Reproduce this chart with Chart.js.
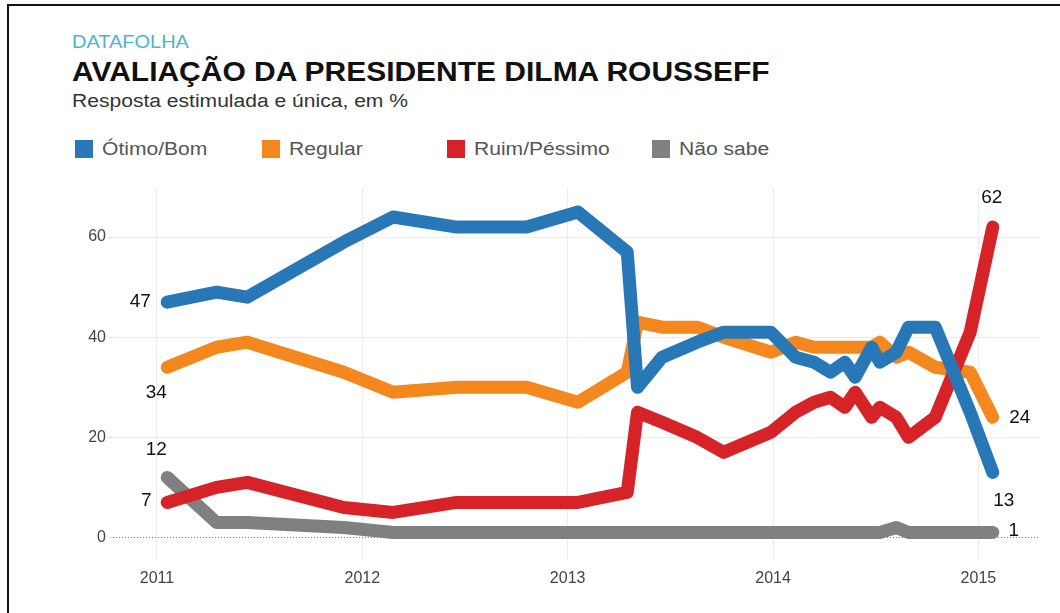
<!DOCTYPE html>
<html lang="pt-BR">
<head>
<meta charset="utf-8">
<title>Avaliação da presidente Dilma Rousseff</title>
<script src="https://cdn.jsdelivr.net/npm/chart.js@4/dist/chart.umd.min.js"></script>
<style>
  html, body { margin: 0; padding: 0; background: #fff; }
  body { width: 1060px; height: 613px; position: relative; overflow: hidden; font-family: "Liberation Sans", Arial, sans-serif; }
  #frame { position: absolute; left: 7px; top: 4px; right: 0; bottom: -4px; border-top: 2px solid #111; border-left: 2px solid #111; }
  .txt { position: absolute; left: 72px; white-space: nowrap; transform-origin: 0 0; line-height: 1; }
  #source { top: 33px; font-size: 18px; color: #4db6c9; transform: scaleX(1.11); }
  #title { top: 59px; font-size: 27px; font-weight: bold; color: #111; transform: scaleX(1.11); }
  #subtitle { top: 92px; font-size: 18px; color: #333; transform: scaleX(1.17); }
  .leg { position: absolute; top: 140px; height: 18px; }
  .leg .box { position: absolute; left: 0; top: 0; width: 18px; height: 18px; }
  .leg .lbl { position: absolute; left: 27px; top: 0; font-size: 18px; line-height: 18px; color: #555; white-space: nowrap; transform-origin: 0 50%; transform: scaleX(1.17); }
  #wrap { position: absolute; left: 0; top: 0; width: 1060px; height: 613px; }
  #chart { display: block; }
</style>
</head>
<body>
<div id="frame"></div>
<div id="source" class="txt">DATAFOLHA</div>
<div id="title" class="txt">AVALIAÇÃO DA PRESIDENTE DILMA ROUSSEFF</div>
<div id="subtitle" class="txt">Resposta estimulada e única, em %</div>
<div id="legend"></div>
<div id="wrap"><canvas id="chart" width="1060" height="613"></canvas></div>
<script>
// poll dates as decimal years
const pollDates = [2011.05, 2011.29, 2011.44, 2011.91, 2012.15, 2012.46, 2012.80, 2013.05, 2013.29, 2013.34,
  2013.46, 2013.63, 2013.76, 2013.99, 2014.11, 2014.20, 2014.28, 2014.35, 2014.40, 2014.48,
  2014.52, 2014.60, 2014.66, 2014.79, 2014.96, 2015.07];

const otimoBom = [47, 49, 48, 59, 64, 62, 62, 65, 57, 30, 36, 39, 41, 41, 36, 35, 33, 35, 32, 38, 35, 37, 42, 42, 25, 13];
const regular = [34, 38, 39, 33, 29, 30, 30, 27, 33, 43, 42, 42, 40, 37, 39, 38, 38, 38, 38, 38, 39, 36, 37, 34, 33, 24];
const ruimPessimo = [7, 10, 11, 6, 5, 7, 7, 7, 9, 25, 23, 20, 17, 21, 25, 27, 28, 26, 29, 24, 26, 24, 20, 24, 41, 62];
const naoSabe = [12, 3, 3, 2, 1, 1, 1, 1, 1, 1, 1, 1, 1, 1, 1, 1, 1, 1, 1, 1, 1, 2, 1, 1, 1, 1];

const seriesNames = ['Ótimo/Bom', 'Regular', 'Ruim/Péssimo', 'Não sabe'];
const seriesColors = ['#2878b8', '#f5871f', '#d62328', '#808080'];
const yearTicks = [2011, 2012, 2013, 2014, 2015];
const valueTicks = [0, 20, 40, 60];

// legend boxes sit at uneven offsets
const legendLeft = [75, 262, 447, 652];
const legendEl = document.getElementById('legend');
seriesNames.forEach((name, i) => {
  const item = document.createElement('div');
  item.className = 'leg';
  item.style.left = legendLeft[i] + 'px';
  item.innerHTML = `<div class="box" style="background:${seriesColors[i]}"></div><div class="lbl">${name}</div>`;
  legendEl.appendChild(item);
});

function points(values) {
  return values.map((v, i) => ({ x: pollDates[i], y: v }));
}

// first/last value labels: [dataset, point index, dx, dy]
const last = pollDates.length - 1;
const endLabels = [
  [0, 0, -27, 0], [1, 0, -11, 26], [2, 0, -21, -2], [3, 0, -11, -28],
  [0, last, 11, 28], [1, last, 27, 0], [2, last, -1, -29], [3, last, 21, -2]
];

const endLabelPlugin = {
  id: 'endLabels',
  afterDatasetsDraw(chart) {
    const ctx = chart.ctx;
    ctx.save();
    ctx.font = '19px "Liberation Sans", Arial, sans-serif';
    ctx.fillStyle = '#111';
    ctx.textAlign = 'center';
    ctx.textBaseline = 'middle';
    endLabels.forEach(([ds, idx, dx, dy]) => {
      const pt = chart.data.datasets[ds].data[idx];
      const x = chart.scales.x.getPixelForValue(pt.x);
      const y = chart.scales.y.getPixelForValue(pt.y);
      ctx.fillText(String(pt.y), x + dx, y + dy);
    });
    ctx.restore();
  }
};

// dotted baseline at zero
const zeroLinePlugin = {
  id: 'zeroLine',
  beforeDatasetsDraw(chart) {
    const { ctx, chartArea } = chart;
    const y = Math.round(chart.scales.y.getPixelForValue(0)) + 0.5;
    ctx.save();
    ctx.strokeStyle = '#7a7a7a';
    ctx.lineWidth = 1;
    ctx.setLineDash([1, 2]);
    ctx.beginPath();
    ctx.moveTo(chartArea.left, y);
    ctx.lineTo(chartArea.right, y);
    ctx.stroke();
    ctx.restore();
  }
};

const allValues = [otimoBom, regular, ruimPessimo, naoSabe];
const drawOrder = [0, 2, 1, 3];

new Chart(document.getElementById('chart'), {
  type: 'line',
  data: {
    datasets: allValues.map((vals, i) => ({
      label: seriesNames[i],
      data: points(vals),
      borderColor: seriesColors[i],
      backgroundColor: seriesColors[i],
      borderWidth: 13,
      borderCapStyle: 'round',
      borderJoinStyle: 'round',
      pointRadius: 0,
      tension: 0,
      order: drawOrder[i]
    }))
  },
  options: {
    responsive: false,
    animation: false,
    layout: { padding: { left: 63, right: 20, top: 187, bottom: 13 } },
    plugins: { legend: { display: false }, tooltip: { enabled: false } },
    scales: {
      x: {
        type: 'linear',
        min: 2010.786,
        max: 2015.30,
        afterBuildTicks: (scale) => { scale.ticks = yearTicks.map((v) => ({ value: v })); },
        afterFit: (scale) => { scale.height = 40; },
        grid: { color: '#ececec', drawTicks: false },
        border: { display: false },
        ticks: { color: '#444', padding: 9, font: { size: 16, family: '"Liberation Sans", Arial' }, callback: (v) => String(v) }
      },
      y: {
        min: -4.5,
        max: 70,
        afterBuildTicks: (scale) => { scale.ticks = valueTicks.map((v) => ({ value: v })); },
        afterFit: (scale) => { scale.width = 50; },
        grid: { color: (c) => (c.tick && c.tick.value === 0 ? 'rgba(0,0,0,0)' : '#ececec'), tickColor: '#ddd', tickLength: 5 },
        border: { display: false },
        ticks: { color: '#444', padding: 2, font: { size: 16, family: '"Liberation Sans", Arial' } }
      }
    }
  },
  plugins: [zeroLinePlugin, endLabelPlugin]
});
</script>
</body>
</html>
